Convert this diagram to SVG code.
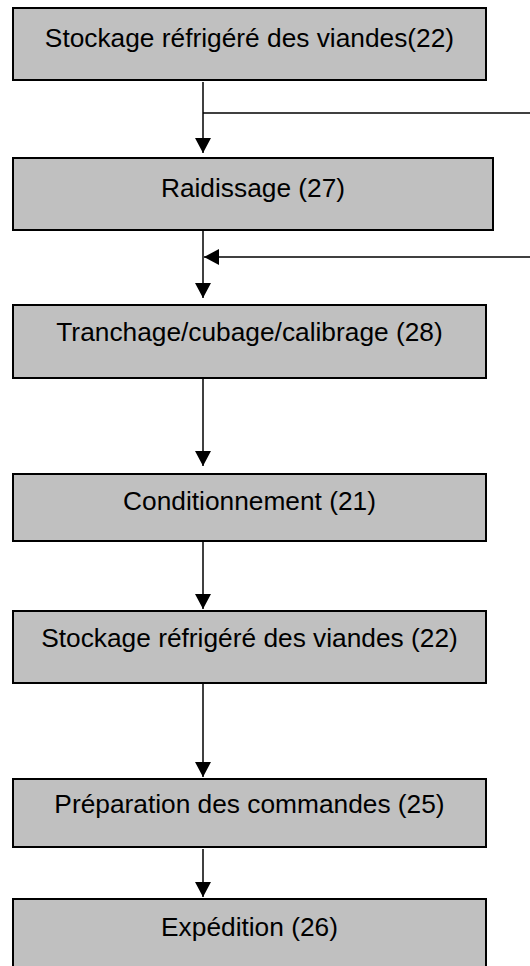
<svg xmlns="http://www.w3.org/2000/svg" width="530" height="966" viewBox="0 0 530 966">
  <style>
    .box { fill: #c0c0c0; stroke: #000; stroke-width: 2; }
    .label { font-family: "Liberation Sans", Arial, sans-serif; font-size: 26.3px; fill: #000; text-anchor: middle; }
    .link { fill: none; stroke: #000; stroke-width: 1.5; }
  </style>
  <defs>
    <marker id="arrow" markerUnits="userSpaceOnUse" markerWidth="15" markerHeight="16" refX="15" refY="8" orient="auto" viewBox="0 0 15 16">
      <path d="M0,0 L15,8 L0,16 Z" fill="#000"/>
    </marker>
  </defs>

  <g id="connectors">
    <line class="link" x1="203" y1="82" x2="203" y2="153" marker-end="url(#arrow)"/>
    <line class="link" x1="203" y1="113" x2="530" y2="113"/>
    <line class="link" x1="203" y1="226" x2="203" y2="298" marker-end="url(#arrow)"/>
    <line class="link" x1="530" y1="257" x2="204" y2="257" marker-end="url(#arrow)"/>
    <line class="link" x1="203" y1="370" x2="203" y2="466" marker-end="url(#arrow)"/>
    <line class="link" x1="203" y1="538" x2="203" y2="609" marker-end="url(#arrow)"/>
    <line class="link" x1="203" y1="683" x2="203" y2="777" marker-end="url(#arrow)"/>
    <line class="link" x1="203" y1="849" x2="203" y2="897" marker-end="url(#arrow)"/>
  </g>

  <g id="stockage1">
    <rect class="box" x="13" y="8" width="473" height="72"/>
    <text class="label" x="249.5" y="47">Stockage réfrigéré des viandes(22)</text>
  </g>
  <g id="raidissage">
    <rect class="box" x="13" y="158" width="480" height="72"/>
    <text class="label" x="253" y="197">Raidissage (27)</text>
  </g>
  <g id="tranchage">
    <rect class="box" x="13" y="305" width="473" height="73"/>
    <text class="label" x="249.5" y="341">Tranchage/cubage/calibrage (28)</text>
  </g>
  <g id="conditionnement">
    <rect class="box" x="13" y="474" width="473" height="67"/>
    <text class="label" x="249.5" y="510">Conditionnement (21)</text>
  </g>
  <g id="stockage2">
    <rect class="box" x="13" y="611" width="473" height="72"/>
    <text class="label" x="249.5" y="647">Stockage réfrigéré des viandes (22)</text>
  </g>
  <g id="preparation">
    <rect class="box" x="13" y="779" width="473" height="68"/>
    <text class="label" x="249.5" y="813">Préparation des commandes (25)</text>
  </g>
  <g id="expedition">
    <rect class="box" x="13" y="899" width="473" height="80"/>
    <text class="label" x="249.5" y="936">Expédition (26)</text>
  </g>
</svg>
